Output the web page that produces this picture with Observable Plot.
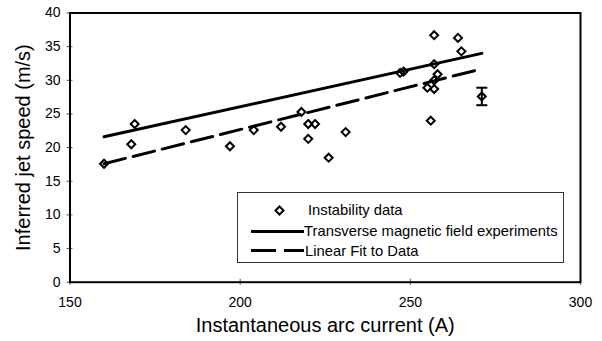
<!DOCTYPE html>
<html>
<head>
<meta charset="utf-8">
<script src="https://cdn.jsdelivr.net/npm/d3@7"></script>
<script src="https://cdn.jsdelivr.net/npm/@observablehq/plot@0.6"></script>
<style>
  html, body { margin: 0; padding: 0; background: white; }
  #wrap { position: relative; width: 602px; height: 341px; font-family: 'Liberation Sans', Arial, sans-serif; }
  #legend { position: absolute; left: 236.5px; top: 191.5px; width: 325px; height: 69px; border: 1px solid #333; background: white; }
</style>
</head>
<body>
<div id="wrap"></div>
<script>
// ---- data ----
const xTicks = [150, 200, 250, 300];
const yTicks = [0, 5, 10, 15, 20, 25, 30, 35, 40];

const currentA = [160, 168, 169, 184, 197, 204, 212, 218, 220, 222, 220, 226, 231, 247, 248, 255, 256, 257, 257, 257, 258, 257, 264, 265];
const speed    = [17.6, 20.5, 23.5, 22.6, 20.2, 22.6, 23.1, 25.3, 23.5, 23.5, 21.3, 18.5, 22.3, 31.1, 31.3, 28.9, 24.0, 28.7, 30.0, 32.4, 30.9, 36.7, 36.3, 34.3];

const errCurrent = [271];
const errSpeed = [27.6];
const errHalf = [1.3];

const transverseX = [160, 271];
const transverseY = [21.6, 34.0];
const fitX = [160, 271];
const fitY = [17.6, 31.7];

const legendLabels = ["Instability data", "Transverse magnetic field experiments", "Linear Fit to Data"];
const xTitle = "Instantaneous arc current (A)";
const yTitle = "Inferred jet speed (m/s)";

// ---- build tables ----
const points = currentA.map((x, i) => ({x, y: speed[i]}));
const errPts = errCurrent.map((x, i) => ({x, y: errSpeed[i], e: errHalf[i]}));
const caps = errPts.flatMap(d => [{x: d.x, y: d.y - d.e}, {x: d.x, y: d.y + d.e}]);
const transverse = transverseX.map((x, i) => ({x, y: transverseY[i]}));
const fit = fitX.map((x, i) => ({x, y: fitY[i]}));

const hline = {draw(ctx) { ctx.moveTo(-5.5, 0); ctx.lineTo(5.5, 0); }};

const chart = Plot.plot({
  width: 602,
  height: 341,
  marginLeft: 69.5,
  marginRight: 22,
  marginTop: 12.5,
  marginBottom: 59.3,
  style: {fontFamily: "'Liberation Sans', Arial, sans-serif", fontSize: "14px", color: "black", background: "white"},
  x: {domain: [150, 300]},
  y: {domain: [0, 40]},
  marks: [
    Plot.axisX({ticks: xTicks, tickSize: 3, tickPadding: 12, tickFormat: d => String(d), label: null, stroke: "#555"}),
    Plot.axisX({ticks: xTicks, tickSize: -3, fill: "none", label: null, stroke: "#555"}),
    Plot.axisY({ticks: yTicks, tickSize: 3, tickPadding: 6.5, tickFormat: d => String(d), label: null, stroke: "#555"}),
    Plot.axisY({ticks: yTicks, tickSize: -3, fill: "none", label: null, stroke: "#555"}),
    Plot.frame({stroke: "black", strokeWidth: 2}),
    Plot.line(transverse, {x: "x", y: "y", stroke: "black", strokeWidth: 3}),
    Plot.line(fit, {x: "x", y: "y", stroke: "black", strokeWidth: 3, strokeDasharray: "22,8"}),
    Plot.dot(points, {x: "x", y: "y", symbol: "diamond2", r: 3.6, stroke: "black", strokeWidth: 2, fill: "none"}),
    Plot.ruleX(errPts, {x: "x", y1: d => d.y - d.e, y2: d => d.y + d.e, stroke: "black", strokeWidth: 2}),
    Plot.dot(caps, {x: "x", y: "y", symbol: hline, r: 4, stroke: "black", strokeWidth: 2}),
    Plot.dot(errPts, {x: "x", y: "y", symbol: "diamond2", r: 3.6, stroke: "black", strokeWidth: 2, fill: "none"}),
    Plot.text([xTitle], {text: d => d, frameAnchor: "bottom", textAnchor: "middle", lineAnchor: "middle", dy: 43, fontSize: 20}),
    Plot.text([yTitle], {text: d => d, frameAnchor: "left", textAnchor: "middle", lineAnchor: "middle", rotate: -90, dx: -46.5, fontSize: 20})
  ]
});

const wrap = document.getElementById("wrap");
wrap.appendChild(chart);

// legend (HTML/SVG overlay)
const leg = document.createElement("div");
leg.id = "legend";
leg.innerHTML = `
<svg width="325" height="69" style="position:absolute;left:0;top:0;font-family:'Liberation Sans', Arial, sans-serif;font-size:14.8px">
  <path d="M41.5,13.5 L45.5,17.5 L41.5,21.5 L37.5,17.5 Z" fill="none" stroke="black" stroke-width="2"/>
  <text x="70" y="21.5">${legendLabels[0]}</text>
  <line x1="13" x2="66" y1="38.5" y2="38.5" stroke="black" stroke-width="3"/>
  <text x="66" y="43">${legendLabels[1]}</text>
  <line x1="13" x2="66" y1="57.5" y2="57.5" stroke="black" stroke-width="3" stroke-dasharray="25,8"/>
  <text x="67" y="63">${legendLabels[2]}</text>
</svg>`;
wrap.appendChild(leg);
</script>
</body>
</html>
